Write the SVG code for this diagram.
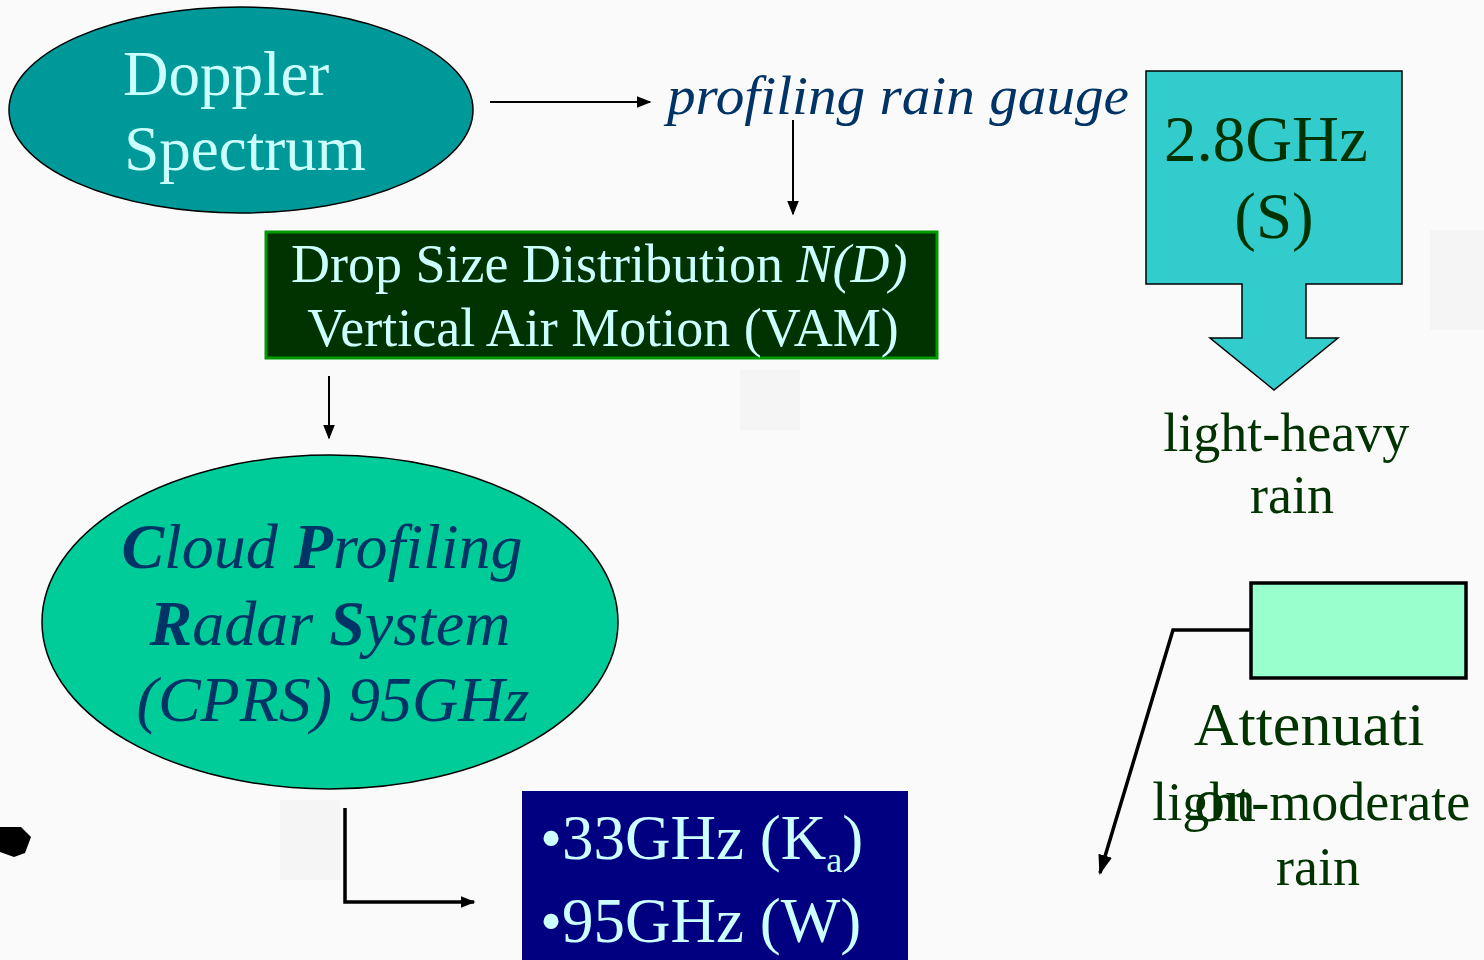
<svg xmlns="http://www.w3.org/2000/svg" width="1484" height="960" viewBox="0 0 1484 960">
  <defs>
    <marker id="arrow" viewBox="0 0 10 10" refX="9" refY="5" markerWidth="15" markerHeight="15" orient="auto" markerUnits="userSpaceOnUse">
      <path d="M0,1 L10,5 L0,9 z" fill="#000"/>
    </marker>
    <marker id="arrowBig" viewBox="0 0 10 10" refX="9" refY="5" markerWidth="20" markerHeight="20" orient="auto" markerUnits="userSpaceOnUse">
      <path d="M0,1.5 L10,5 L0,8.5 z" fill="#000"/>
    </marker>
    <style>
      .serif { font-family: "Liberation Serif", "Times New Roman", serif; }
      .light { fill: #ccffff; }
      .navy { fill: #003366; }
      .dkgreen { fill: #003300; }
      .conn { stroke: #000; stroke-width: 2; fill: none; }
      .connThick { stroke: #000; stroke-width: 3.5; fill: none; }
    </style>
  </defs>

  <!-- background -->
  <rect x="0" y="0" width="1484" height="960" fill="#fafafa"/>
  <g fill="#f2f2f2" opacity="0.6">
    <rect x="280" y="800" width="60" height="80"/>
    <rect x="1430" y="230" width="54" height="100"/>
    <rect x="740" y="370" width="60" height="60"/>
  </g>

  <!-- connectors -->
  <g id="connectors">
    <line class="conn" x1="490" y1="102" x2="650" y2="102" marker-end="url(#arrow)"/>
    <line class="conn" x1="793" y1="120" x2="793" y2="214" marker-end="url(#arrow)"/>
    <line class="conn" x1="329" y1="376" x2="329" y2="438" marker-end="url(#arrow)"/>
    <polyline class="connThick" points="345,808 345,902 474,902" marker-end="url(#arrow)"/>
    <polyline class="connThick" points="1250,630 1173,630 1100,873" marker-end="url(#arrowBig)"/>
  </g>

  <!-- Doppler Spectrum -->
  <g id="doppler">
    <ellipse cx="241" cy="110" rx="232" ry="103" fill="#009999" stroke="#000" stroke-width="1.5"/>
    <text class="serif light" font-size="63" text-anchor="middle">
      <tspan x="234" y="95">Doppler</tspan>
      <tspan x="245" y="170">Spectrum</tspan>
    </text>
  </g>

  <!-- profiling rain gauge -->
  <g id="gauge">
    <text class="serif navy" font-size="54" font-style="italic" x="667" y="114" textLength="462" lengthAdjust="spacingAndGlyphs">profiling rain gauge</text>
  </g>

  <!-- Drop size distribution box -->
  <g id="dsd">
    <rect x="266" y="232" width="671" height="126" fill="#003300" stroke="#009900" stroke-width="3"/>
    <text class="serif light" font-size="54" text-anchor="middle">
      <tspan x="606" y="282">Drop Size Distribution <tspan font-style="italic">N(D)</tspan></tspan>
      <tspan x="603" y="346">Vertical Air Motion (VAM)</tspan>
    </text>
  </g>

  <!-- CPRS -->
  <g id="cprs">
    <ellipse cx="330" cy="622" rx="288" ry="167" fill="#00cc99" stroke="#000" stroke-width="1.5"/>
    <text class="serif navy" font-size="64" font-style="italic" text-anchor="middle">
      <tspan x="330" y="568"><tspan font-weight="bold">C</tspan>loud <tspan font-weight="bold">P</tspan>rofiling</tspan>
      <tspan x="338" y="645"><tspan font-weight="bold">R</tspan>adar <tspan font-weight="bold">S</tspan>ystem</tspan>
      <tspan x="333" y="721">(CPRS) 95GHz</tspan>
    </text>
  </g>

  <!-- frequency list -->
  <g id="bands">
    <rect x="522" y="791" width="386" height="169" fill="#000080"/>
    <text class="serif light" font-size="63">
      <tspan x="540" y="859">•33GHz (K<tspan font-size="36" dy="13">a</tspan><tspan dy="-13">)</tspan></tspan>
      <tspan x="540" y="942">•95GHz (W)</tspan>
    </text>
  </g>

  <!-- S band callout -->
  <g id="sband">
    <path d="M1146,71 L1402,71 L1402,284 L1306,284 L1306,338 L1338,338 L1274,390 L1210,338 L1242,338 L1242,284 L1146,284 Z" fill="#33cccc" stroke="#000" stroke-width="1.5"/>
    <text class="serif dkgreen" font-size="65" text-anchor="middle">
      <tspan x="1274" y="161">2.8GHz</tspan>
      <tspan x="1274" y="238">(S)</tspan>
    </text>
  </g>

  <g id="heavy">
    <text class="serif dkgreen" font-size="54" text-anchor="middle">
      <tspan x="1293" y="451">light-heavy</tspan>
      <tspan x="1292" y="513">rain</tspan>
    </text>
  </g>

  <!-- attenuation box -->
  <g id="attenuation">
    <rect x="1251" y="583" width="215" height="95" fill="#99ffcc" stroke="#000" stroke-width="3.5"/>
    <text class="serif dkgreen" font-size="62" text-anchor="middle">
      <tspan x="1309" y="745">Attenuati</tspan>
    </text>
    <text class="serif dkgreen" font-size="62" x="1194" y="821">on</text>
  </g>

  <g id="moderate">
    <text class="serif dkgreen" font-size="54" text-anchor="middle">
      <tspan x="1318" y="820">light-moderate</tspan>
      <tspan x="1318" y="885">rain</tspan>
    </text>
  </g>

  <!-- stray mark at left edge -->
  <polygon points="0,827 21,827 31,837 25,853 14,857 0,852" fill="#000"/>
</svg>
